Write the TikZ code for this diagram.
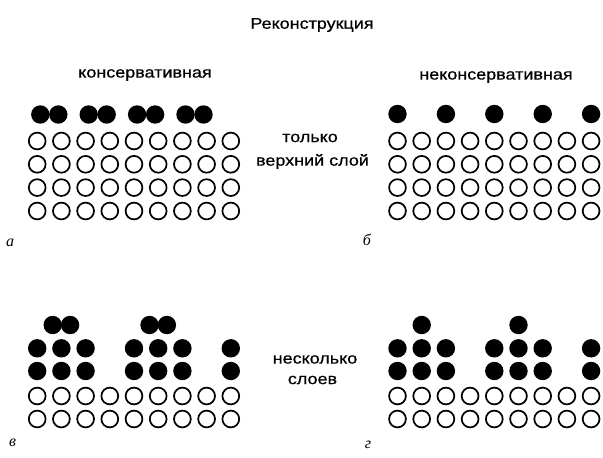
\documentclass[tikz,border=0pt]{standalone}
\usepackage{fontspec}
\setmainfont{Liberation Sans}[FakeStretch=1.16,FakeBold=0.6]
\newfontfamily\lblfont{Liberation Serif}
\begin{document}
\begin{tikzpicture}[x=1pt,y=-1pt,
  oc/.style={circle,draw=black,line width=1.7pt,minimum size=16.8pt,inner sep=0pt},
  fc/.style={circle,fill=black,minimum size=18.4pt,inner sep=0pt},
  txt/.style={font=\fontsize{15.5}{17}\selectfont,inner sep=0pt,anchor=center},
  plbl/.style={font=\lblfont\itshape\fontsize{16}{18}\selectfont,inner sep=0pt}]
\useasboundingbox (0,0) rectangle (603,458);
\fill[white] (0,0) rectangle (603,458);
\def\ax{37.2}
\def\bx{397.5}
\def\dx{24.2}
% titles
\node[txt] (title) at (312,25) {Реконструкция};
\node[txt] (cons) at (145,75) {консервативная};
\node[txt] (noncons) at (496,77) {неконсервативная};
\node[txt] (top1) at (310,138) {только};
\node[txt] (top2) at (312.5,161.5) {верхний слой};
\node[txt] (mul1) at (315,359.5) {несколько};
\node[txt] (mul2) at (312.5,380) {слоев};
\node[plbl] (la) at (10,243) {а};
\node[plbl] (lb) at (367,240) {б};
\node[plbl] (lv) at (12.5,443) {в};
\node[plbl] (lg) at (368,445) {г};
% top panels: open rows
\foreach \r/\y in {1/141,2/164.3,3/187.6,4/211}{
  \foreach \c in {0,...,8}{
    \node[oc] (a-\r-\c) at ({\ax+\dx*\c},\y) {};
    \node[oc] (b-\r-\c) at ({\bx+\dx*\c},\y) {};
  }}
% panel a: adatom pairs
\foreach \p in {0,2,4,6}{
  \node[fc] (a-t-\p-l) at ({\ax+\dx*(\p+0.5)-9},114.5) {};
  \node[fc] (a-t-\p-r) at ({\ax+\dx*(\p+0.5)+9},114.5) {};
}
% panel b: single adatoms
\foreach \p in {0,2,4,6,8}{
  \node[fc] (b-t-\p) at ({\bx+\dx*\p},114) {};
}
% bottom panels
\foreach \r/\y in {1/348.3,2/371}{
  \foreach \c in {0,1,2,4,5,6,8}{
    \node[fc] (v-\r-\c) at ({\ax+\dx*\c},\y) {};
    \node[fc] (g-\r-\c) at ({\bx+\dx*\c},\y) {};
  }}
\foreach \r/\y in {3/396,4/419}{
  \foreach \c in {0,...,8}{
    \node[oc] (v-\r-\c) at ({\ax+\dx*\c},\y) {};
    \node[oc] (g-\r-\c) at ({\bx+\dx*\c},\y) {};
  }}
\foreach \p in {1,5}{
  \node[fc] (v-t-\p-l) at ({\ax+\dx*\p-8.7},325) {};
  \node[fc] (v-t-\p-r) at ({\ax+\dx*\p+8.7},325) {};
  \node[fc] (g-t-\p) at ({\bx+\dx*\p},325) {};
}
\end{tikzpicture}
\end{document}
